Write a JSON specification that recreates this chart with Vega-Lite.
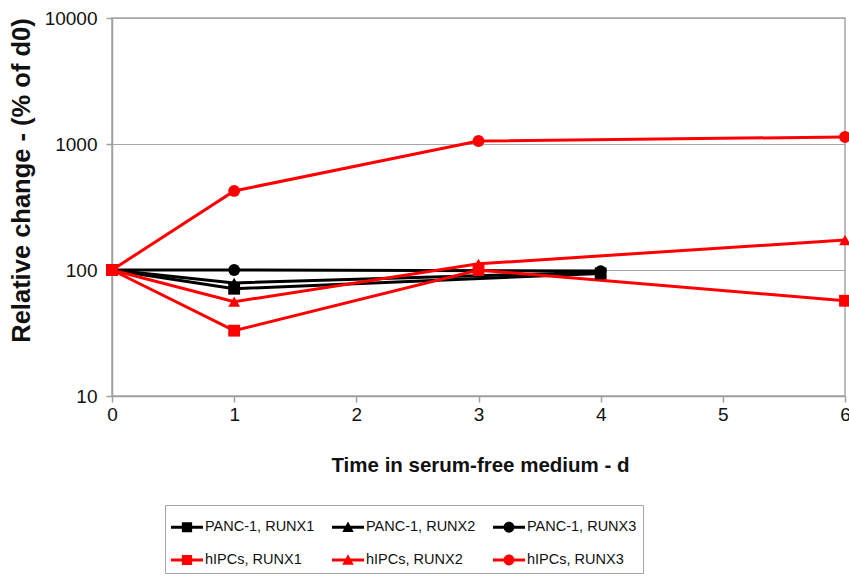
{
  "$schema": "https://vega.github.io/schema/vega-lite/v6.json",
  "width": 733,
  "height": 378,
  "autosize": {"type": "none"},
  "padding": {"left": 112, "top": 18, "right": 4, "bottom": 181},
  "background": "white",
  "config": {
    "view": {"stroke": "#a6a6a6", "strokeWidth": 1.5},
    "font": "Liberation Sans"
  },
  "data": {
    "values": [
      {"series": "PANC-1, RUNX1", "marker": "square", "day": 0, "value": 100},
      {"series": "PANC-1, RUNX1", "marker": "square", "day": 1, "value": 71},
      {"series": "PANC-1, RUNX1", "marker": "square", "day": 4, "value": 94},
      {"series": "PANC-1, RUNX2", "marker": "triangle", "day": 0, "value": 100},
      {"series": "PANC-1, RUNX2", "marker": "triangle", "day": 1, "value": 79},
      {"series": "PANC-1, RUNX2", "marker": "triangle", "day": 4, "value": 96},
      {"series": "PANC-1, RUNX3", "marker": "circle", "day": 0, "value": 100},
      {"series": "PANC-1, RUNX3", "marker": "circle", "day": 1, "value": 100},
      {"series": "PANC-1, RUNX3", "marker": "circle", "day": 4, "value": 98},
      {"series": "hIPCs, RUNX1", "marker": "square", "day": 0, "value": 100},
      {"series": "hIPCs, RUNX1", "marker": "square", "day": 1, "value": 33},
      {"series": "hIPCs, RUNX1", "marker": "square", "day": 3, "value": 100},
      {"series": "hIPCs, RUNX1", "marker": "square", "day": 6, "value": 57},
      {"series": "hIPCs, RUNX2", "marker": "triangle", "day": 0, "value": 100},
      {"series": "hIPCs, RUNX2", "marker": "triangle", "day": 1, "value": 56},
      {"series": "hIPCs, RUNX2", "marker": "triangle", "day": 3, "value": 112},
      {"series": "hIPCs, RUNX2", "marker": "triangle", "day": 6, "value": 173},
      {"series": "hIPCs, RUNX3", "marker": "circle", "day": 0, "value": 100},
      {"series": "hIPCs, RUNX3", "marker": "circle", "day": 1, "value": 424},
      {"series": "hIPCs, RUNX3", "marker": "circle", "day": 3, "value": 1056},
      {"series": "hIPCs, RUNX3", "marker": "circle", "day": 6, "value": 1137}
    ]
  },
  "encoding": {
    "x": {
      "field": "day", "type": "quantitative",
      "scale": {"domain": [0, 6], "nice": false, "zero": false},
      "axis": {
        "values": [0, 1, 2, 3, 4, 5, 6],
        "format": "d",
        "grid": false,
        "domainColor": "#a0a0a0", "domainWidth": 1.5,
        "tickColor": "#a0a0a0", "tickSize": 6, "tickWidth": 1.5,
        "labelFontSize": 19, "labelColor": "#111111", "labelPadding": 3,
        "labelFlush": false, "labelOverlap": false,
        "title": "Time in serum-free medium - d",
        "titleFontSize": 20.5, "titleFontWeight": "bold", "titleColor": "#111111",
        "titleX": 368, "titleY": 69, "titleBaseline": "middle", "titleAlign": "center"
      }
    },
    "y": {
      "field": "value", "type": "quantitative",
      "scale": {"type": "log", "domain": [10, 10000], "nice": false},
      "axis": {
        "values": [10, 100, 1000, 10000],
        "format": "d",
        "grid": true, "gridColor": "#a6a6a6", "gridWidth": 1.2,
        "domainColor": "#a0a0a0", "domainWidth": 1.5,
        "tickColor": "#a0a0a0", "tickSize": 6, "tickWidth": 1.5,
        "labelFontSize": 19, "labelColor": "#111111", "labelPadding": 9,
        "labelFlush": false, "labelOverlap": false,
        "title": "Relative change - (% of d0)",
        "titleFontSize": 25.5, "titleFontWeight": "bold", "titleColor": "#111111",
        "titleAngle": -90, "titleX": -91, "titleY": 162,
        "titleBaseline": "middle", "titleAlign": "center"
      }
    }
  },
  "layer": [
    {
      "mark": {"type": "line", "strokeWidth": 3, "opacity": 1},
      "encoding": {
        "color": {
          "field": "series", "type": "nominal",
          "scale": {
            "domain": ["PANC-1, RUNX1", "PANC-1, RUNX2", "PANC-1, RUNX3", "hIPCs, RUNX1", "hIPCs, RUNX2", "hIPCs, RUNX3"],
            "range": ["#000000", "#000000", "#000000", "#ff0000", "#ff0000", "#ff0000"]
          },
          "legend": null
        }
      }
    },
    {
      "mark": {"type": "point", "filled": true, "opacity": 1, "size": 140},
      "encoding": {
        "color": {
          "field": "series", "type": "nominal",
          "scale": {
            "domain": ["PANC-1, RUNX1", "PANC-1, RUNX2", "PANC-1, RUNX3", "hIPCs, RUNX1", "hIPCs, RUNX2", "hIPCs, RUNX3"],
            "range": ["#000000", "#000000", "#000000", "#ff0000", "#ff0000", "#ff0000"]
          },
          "legend": null
        },
        "shape": {
          "field": "marker", "type": "nominal",
          "scale": {"domain": ["square", "triangle", "circle"], "range": ["square", "triangle-up", "circle"]},
          "legend": null
        }
      }
    },
    {
      "transform": [{"filter": "false"}],
      "mark": {"type": "point", "filled": true, "opacity": 1},
      "encoding": {
        "color": {
          "field": "series", "type": "nominal",
          "scale": {
            "domain": ["PANC-1, RUNX1", "PANC-1, RUNX2", "PANC-1, RUNX3", "hIPCs, RUNX1", "hIPCs, RUNX2", "hIPCs, RUNX3"],
            "range": ["#000000", "#000000", "#000000", "#ff0000", "#ff0000", "#ff0000"]
          },
          "legend": {
            "title": null,
            "orient": "none",
            "legendX": 53,
            "legendY": 487,
            "direction": "horizontal",
            "columns": 3,
            "columnPadding": 17,
            "rowPadding": 10,
            "padding": 6,
            "strokeColor": "#a6a6a6",
            "fillColor": "white",
            "symbolSize": 1024,
            "symbolStrokeWidth": 0,
            "symbolOpacity": 1,
            "labelFontSize": 14.5,
            "labelColor": "#111111",
            "labelOffset": 2,
            "labelLimit": 300
          }
        },
        "shape": {
          "field": "series", "type": "nominal",
          "scale": {
            "domain": ["PANC-1, RUNX1", "PANC-1, RUNX2", "PANC-1, RUNX3", "hIPCs, RUNX1", "hIPCs, RUNX2", "hIPCs, RUNX3"],
            "range": [
              "M-1,-0.09H1V0.09H-1ZM-0.32,-0.32H0.32V0.32H-0.32Z",
              "M-1,-0.09H1V0.09H-1ZM0,-0.36L0.36,0.3H-0.36Z",
              "M-1,-0.09H1V0.09H-1ZM-0.34,0A0.34,0.34,0,1,1,0.34,0A0.34,0.34,0,1,1,-0.34,0Z",
              "M-1,-0.09H1V0.09H-1ZM-0.32,-0.32H0.32V0.32H-0.32Z",
              "M-1,-0.09H1V0.09H-1ZM0,-0.36L0.36,0.3H-0.36Z",
              "M-1,-0.09H1V0.09H-1ZM-0.34,0A0.34,0.34,0,1,1,0.34,0A0.34,0.34,0,1,1,-0.34,0Z"
            ]
          },
          "legend": {
            "title": null,
            "orient": "none",
            "legendX": 53,
            "legendY": 487,
            "direction": "horizontal",
            "columns": 3,
            "columnPadding": 17,
            "rowPadding": 10,
            "padding": 6,
            "strokeColor": "#a6a6a6",
            "fillColor": "white",
            "symbolSize": 1024,
            "symbolStrokeWidth": 0,
            "symbolOpacity": 1,
            "labelFontSize": 14.5,
            "labelColor": "#111111",
            "labelOffset": 2,
            "labelLimit": 300
          }
        }
      }
    }
  ],
  "resolve": {"scale": {"shape": "independent", "color": "independent"}}
}
